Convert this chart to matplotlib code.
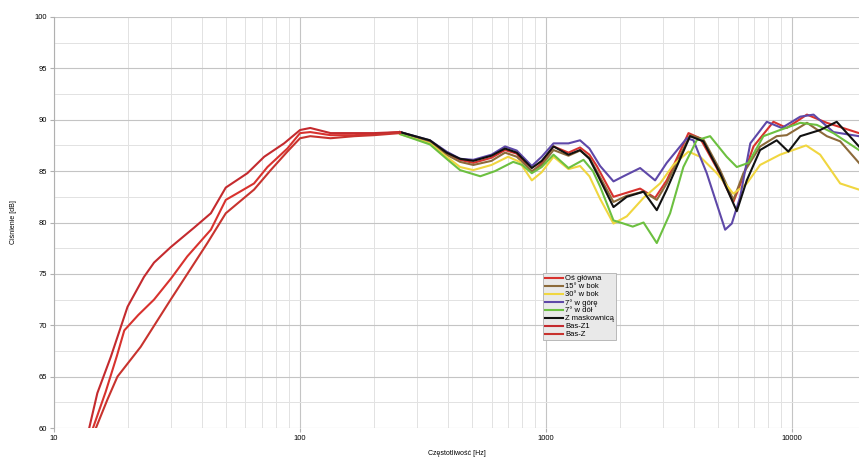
import matplotlib
matplotlib.use("Agg")
import matplotlib.pyplot as plt
from matplotlib.ticker import FixedLocator, NullFormatter

plt.rcParams['font.family'] = ['Liberation Sans', 'DejaVu Sans']

# Oś główna (full range)
f_glowna = [14.4, 16.2, 18.0, 19.3, 22.0, 25.5, 30, 34.8, 43.4, 49.9, 57, 65, 73.7, 88.8, 100, 110, 133, 166, 200, 255,
            337, 394, 447, 506, 600, 681, 760, 875, 960, 1072, 1233, 1374, 1500, 1607, 1879, 2000, 2411, 2774, 3092,
            3791, 4227, 4942, 5772, 6150, 6966, 8394, 9508, 11490, 13840, 18700]
db_glowna = [60, 63.5, 67.0, 69.5, 71.0, 72.5, 74.6, 76.7, 79.3, 82.2, 83.0, 83.8, 85.4, 87.2, 88.7, 88.8, 88.5, 88.5, 88.6, 88.8,
             87.9, 86.7, 86.1, 85.8, 86.3, 87.05, 86.7, 84.9, 85.8, 87.4, 86.8, 87.3, 86.6, 85.5, 82.5, 82.7, 83.3, 82.4, 84.1,
             88.7, 88.2, 85.3, 82.0, 83.7, 87.4, 89.8, 89.2, 90.5, 89.7, 88.7]

# 15° w bok
f_15 = [255, 337, 394, 447, 506, 600, 681, 760, 875, 960, 1072, 1233, 1374, 1500, 1607, 1879, 2128, 2489, 2818, 3092,
        3846, 4355, 5093, 5772, 6340, 7410, 8657, 9508, 11490, 13840, 15680, 18700]
db_15 = [88.8, 87.8, 86.6, 85.9, 85.6, 86.0, 86.8, 86.4, 85.0, 85.6, 87.05, 86.5, 87.0, 86.3, 85.0, 82.0, 82.6, 83.0, 82.2, 83.8,
         88.5, 88.1, 85.1, 82.2, 84.8, 87.4, 88.4, 88.5, 89.7, 88.4, 87.9, 85.8]

# 30° w bok
f_30 = [255, 337, 394, 447, 506, 600, 701, 780, 875, 960, 1072, 1233, 1374, 1500, 1658, 1879, 2128, 2489, 2906, 3290,
        3791, 4227, 4942, 5772, 6543, 7410, 8930, 11400, 13000, 15680, 18700]
db_30 = [88.6, 87.7, 86.4, 85.4, 85.1, 85.6, 86.4, 85.9, 84.1, 84.9, 86.4, 85.2, 85.5, 84.5, 82.3, 79.9, 80.6, 82.4, 83.8, 85.6,
         86.9, 86.4, 84.8, 82.8, 83.8, 85.6, 86.6, 87.5, 86.6, 83.8, 83.2]

# 7° w górę
f_gora = [255, 337, 394, 447, 506, 600, 681, 760, 875, 960, 1072, 1233, 1374, 1500, 1658, 1879, 2063, 2411, 2774, 3092,
          3731, 3970, 4498, 5343, 5687, 6150, 6761, 7890, 9078, 10790, 12220, 14720, 18700]
db_gora = [88.8, 88.0, 86.9, 86.2, 86.1, 86.6, 87.4, 87.0, 85.5, 86.4, 87.7, 87.7, 88.0, 87.2, 85.5, 84.0, 84.5, 85.3, 84.1, 85.8,
           88.2, 88.0, 84.8, 79.3, 79.9, 82.5, 87.7, 89.8, 89.2, 90.3, 90.5, 88.8, 88.4]

# 7° w dół
f_dol = [255, 337, 394, 447, 540, 620, 735, 800, 875, 960, 1072, 1233, 1419, 1550, 1658, 1879, 2063, 2250, 2489, 2818,
         3192, 3614, 4094, 4641, 5420, 5959, 6643, 7644, 8930, 10790, 12600, 14720, 18700]
db_dol = [88.6, 87.6, 86.2, 85.1, 84.5, 85.0, 85.9, 85.6, 84.8, 85.4, 86.6, 85.3, 86.1, 85.0, 83.5, 80.2, 79.9, 79.6, 80.0, 78.0,
          80.9, 85.4, 88.0, 88.4, 86.4, 85.4, 85.8, 88.4, 89.0, 89.7, 89.5, 88.7, 87.05]

# Z maskownicą
f_mask = [255, 337, 394, 447, 506, 600, 681, 760, 875, 960, 1072, 1233, 1374, 1500, 1607, 1879, 2128, 2489, 2818, 3092,
          3846, 4355, 5093, 5959, 6543, 7410, 8657, 9655, 10790, 13000, 15180, 18700]
db_mask = [88.8, 88.0, 86.8, 86.2, 86.0, 86.5, 87.2, 86.8, 85.3, 86.0, 87.4, 86.6, 87.05, 86.2, 84.8, 81.5, 82.5, 83.0, 81.2, 83.2,
           88.4, 87.9, 84.8, 81.1, 84.1, 87.05, 88.0, 86.9, 88.4, 89.0, 89.8, 87.4]

# Bas-Z1
f_basz1 = [13.9, 15.0, 17.0, 19.9, 23.2, 25.5, 29.8, 37.1, 43.4, 49.9, 61.1, 71.5, 86.1, 100, 110, 133, 166, 200, 255]
db_basz1 = [60, 63.4, 66.9, 71.8, 74.7, 76.1, 77.6, 79.5, 80.9, 83.4, 84.8, 86.4, 87.7, 89.0, 89.2, 88.7, 88.7, 88.7, 88.8]

# Bas-Z
f_basz = [14.8, 16.5, 18.1, 22.5, 29.8, 42, 49.9, 65, 76, 88.8, 100, 110, 133, 166, 200, 255]
db_basz = [60, 62.8, 65.0, 67.9, 72.5, 78.0, 80.9, 83.2, 85.1, 86.9, 88.2, 88.4, 88.2, 88.4, 88.5, 88.7]

fig = plt.figure(figsize=(8.59, 4.59), dpi=100)
ax = fig.add_axes([0.0629, 0.0675, 0.9371, 0.8955])

lw = 1.5
ax.plot(f_glowna, db_glowna, color='#d8322e', lw=lw, label='Oś główna')
ax.plot(f_15, db_15, color='#8c6a3a', lw=lw, label='15° w bok')
ax.plot(f_30, db_30, color='#f0d640', lw=lw, label='30° w bok')
ax.plot(f_gora, db_gora, color='#5e48a8', lw=lw, label='7° w górę')
ax.plot(f_dol, db_dol, color='#6cc040', lw=lw, label='7° w dół')
ax.plot(f_mask, db_mask, color='#111111', lw=lw, label='Z maskownicą')
ax.plot(f_basz1, db_basz1, color='#c42a2e', lw=lw, label='Bas-Z1')
ax.plot(f_basz, db_basz, color='#c8332e', lw=lw, label='Bas-Z')

ax.set_xscale('log')
ax.set_xlim(10, 18700)
ax.set_ylim(60, 100)
ax.xaxis.set_major_locator(FixedLocator([10, 100, 1000, 10000]))
ax.set_xticklabels(['10', '100', '1000', '10000'])
ax.xaxis.set_minor_locator(FixedLocator([m * d for d in [10, 100, 1000, 10000] for m in range(2, 10)]))
ax.xaxis.set_minor_formatter(NullFormatter())
ax.set_yticks(range(60, 101, 5))
ax.set_yticks([62.5 + 5 * i for i in range(8)], minor=True)

ax.grid(which='major', color='#c4c4c4', lw=0.8)
ax.grid(which='minor', color='#e2e2e2', lw=0.7)
ax.set_axisbelow(True)
for s in ['top', 'right', 'bottom']:
    ax.spines[s].set_visible(False)
ax.spines['left'].set_color('#b0b0b0')
ax.tick_params(which='major', length=3, color='#b0b0b0', labelsize=5.5, pad=2)
ax.tick_params(which='minor', length=0)

ax.set_xlabel('Częstotliwość [Hz]', fontsize=5, labelpad=6)
ax.set_ylabel('Ciśnienie [dB]', fontsize=5, labelpad=13)

leg = ax.legend(loc='upper left', bbox_to_anchor=(0.607, 0.377), fontsize=5.5, labelspacing=0.08,
                borderpad=0.25, handlelength=2.4, handletextpad=0.3, fancybox=False, framealpha=1,
                borderaxespad=0)
leg.get_frame().set_facecolor('#e9e9e9')
leg.get_frame().set_edgecolor('#b0b0b0')
leg.get_frame().set_linewidth(0.6)

fig.savefig('out.png', dpi=100)
